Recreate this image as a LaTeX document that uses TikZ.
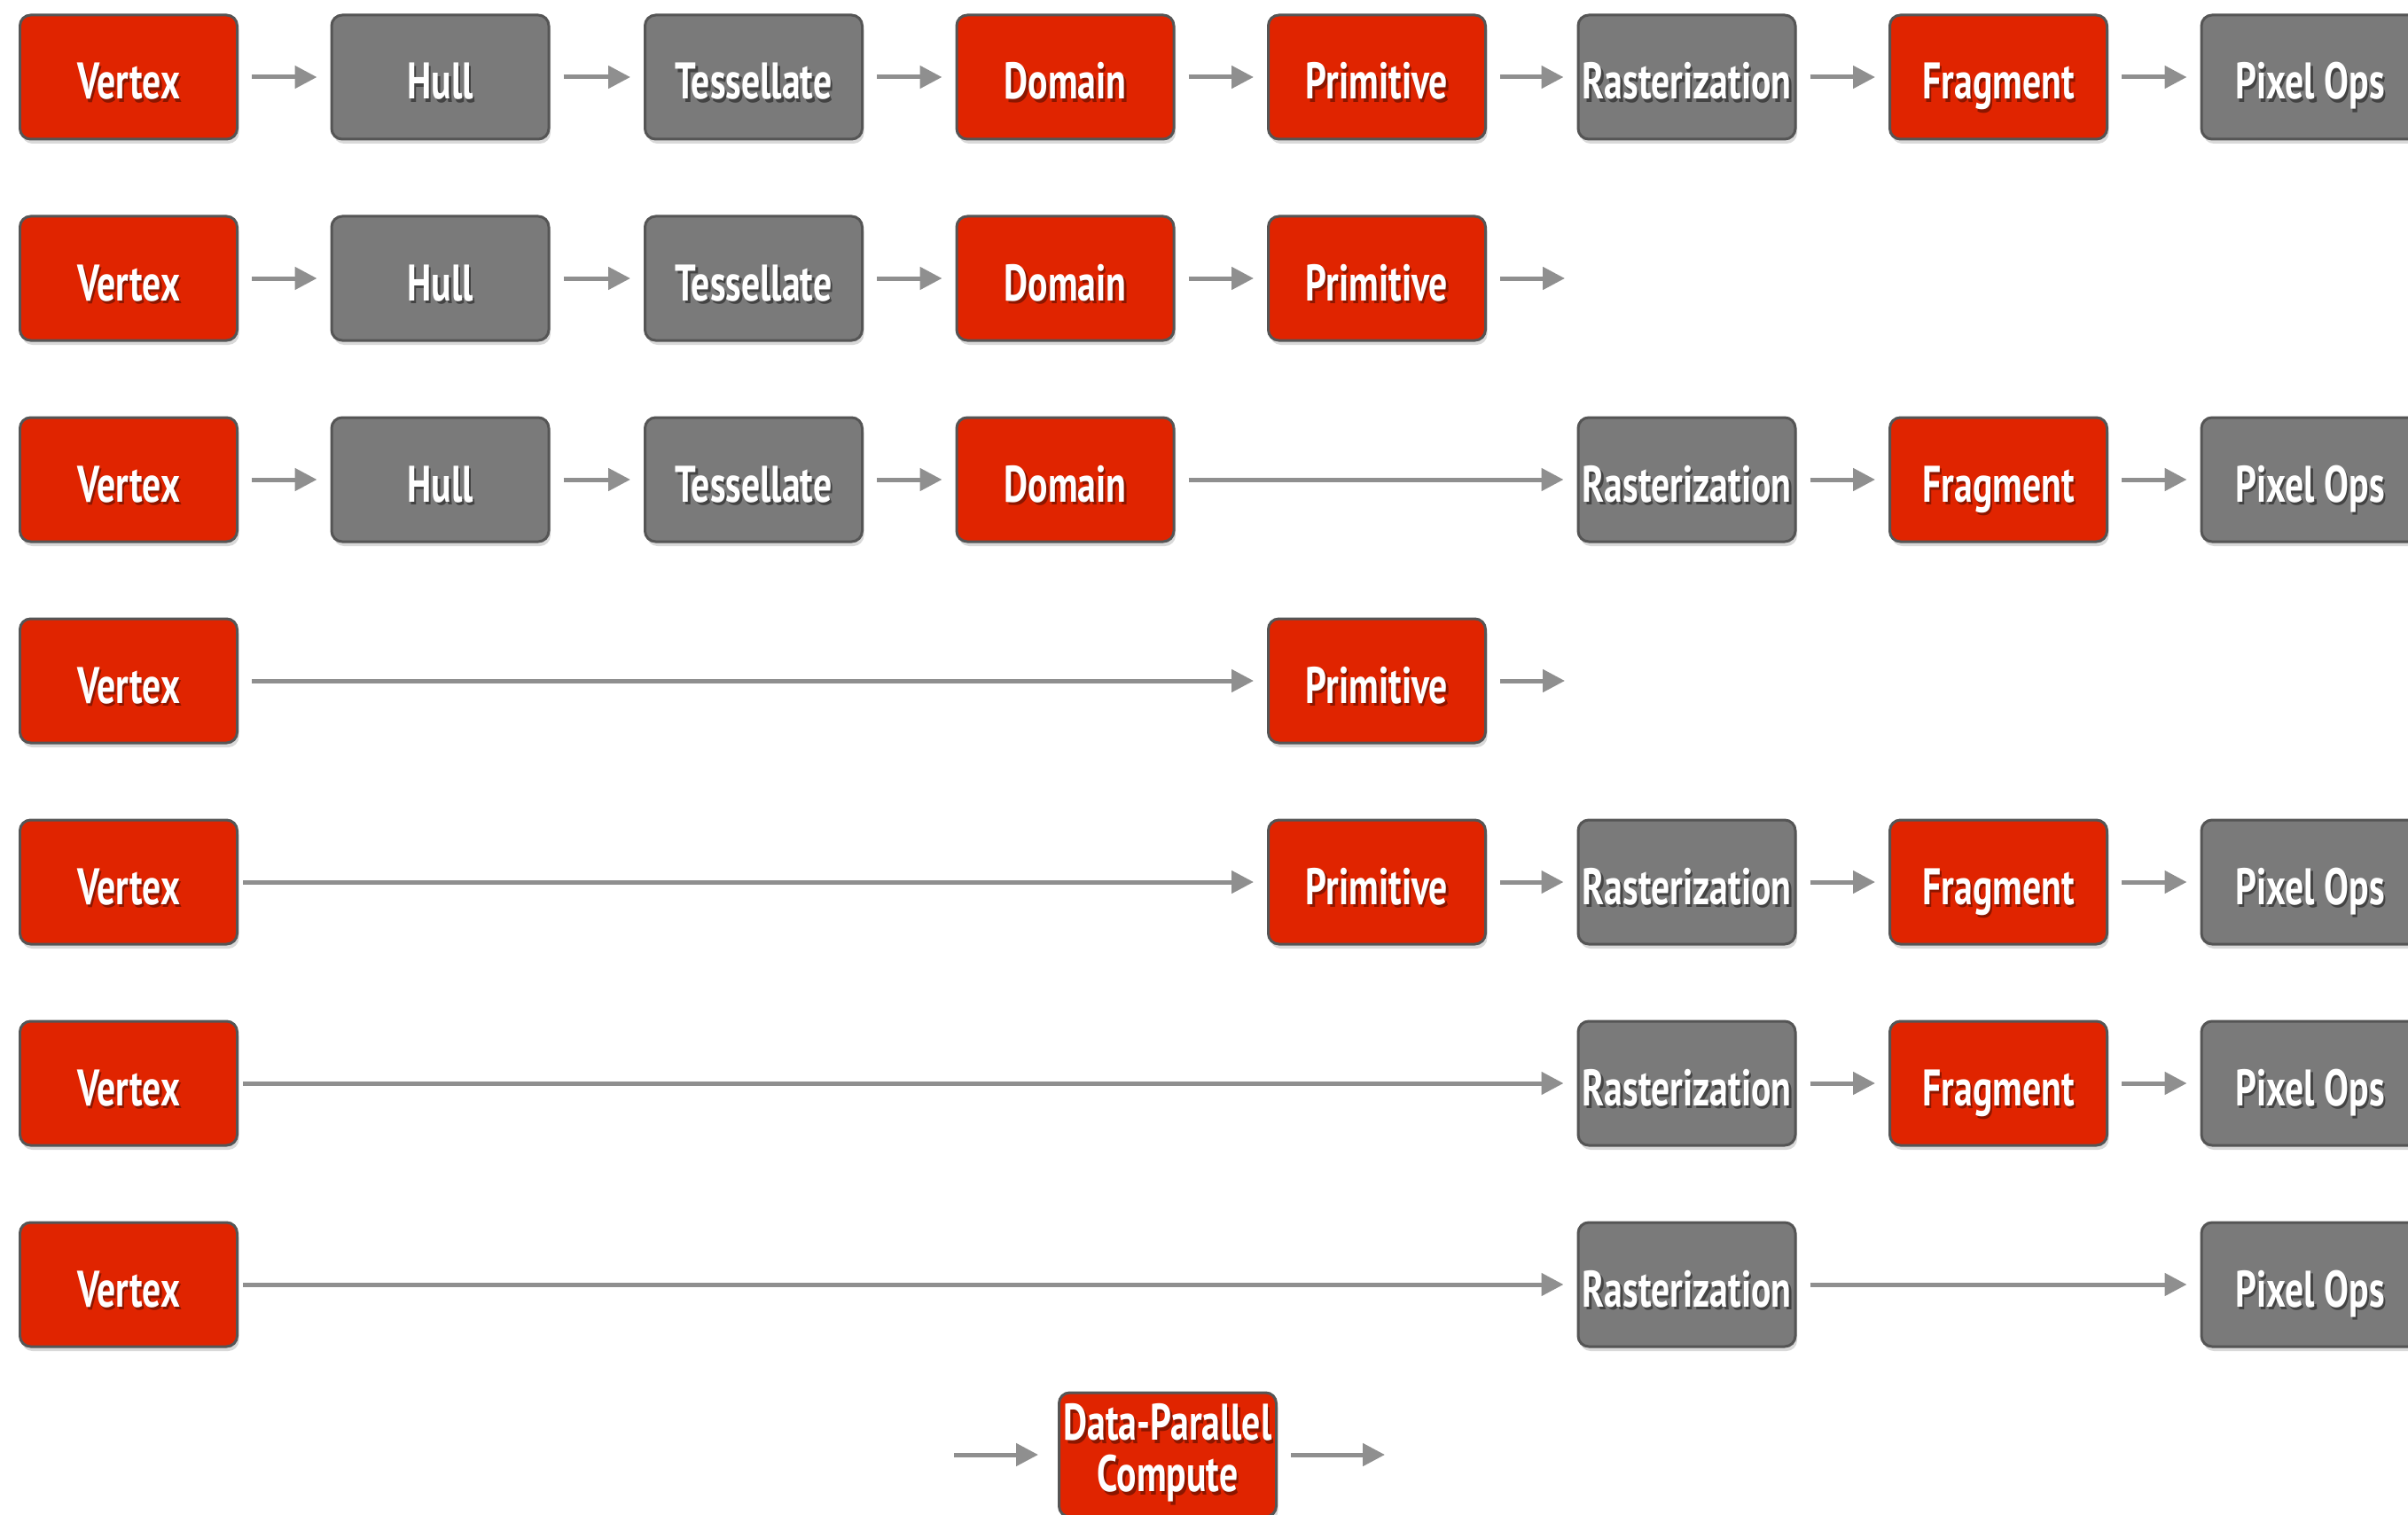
\documentclass[tikz,border=0pt]{standalone}
\usepackage{fontspec}
\newfontfamily\stagefont{PT Sans}[FakeStretch=0.72]
\usepackage{tikz}
\usetikzlibrary{arrows.meta,shadows}
\definecolor{stagered}{HTML}{E02400}
\definecolor{stagegrey}{HTML}{7A7A7A}
\definecolor{boxedge}{HTML}{555555}
\definecolor{flowgrey}{HTML}{8F8F8F}
\colorlet{redshade}{stagered!62!black}
\colorlet{greyshade}{stagegrey!55!black}
% white label with a dark offset copy behind it
\newcommand{\stxt}[1]{\leavevmode\rlap{\kern0.7pt\raisebox{-1.1pt}{\textcolor{\shcol}{#1}}}#1}

\begin{document}
\begin{tikzpicture}[
  stage/.style={rounded corners=0.12cm, draw=boxedge, line width=0.03cm,
                minimum width=2.45cm, minimum height=1.40cm, inner sep=0pt,
                text=white, align=center, text height=0.55cm, text depth=0.05cm,
                font=\stagefont\bfseries\fontsize{16.5}{17.5}\selectfont,
                drop shadow={shadow xshift=0.02cm, shadow yshift=-0.05cm, opacity=0.3}},
  redstage/.style={stage, fill=stagered, execute at begin node=\def\shcol{redshade}},
  greystage/.style={stage, fill=stagegrey, execute at begin node=\def\shcol{greyshade}},
  flow/.style={draw=flowgrey, line width=0.05cm,
               -{Triangle[length=0.25cm, width=0.25cm]},
               shorten <=0.15cm, shorten >=0.15cm},
  longflow/.style={flow, shorten <=0.05cm},
]
\clip (0,0) rectangle (27.16,-17.09);
% row 1 : full pipeline
\node[redstage] (v1) at (1.450,-0.87) {\stxt{Vertex}};
\node[greystage] (h1) at (4.965,-0.87) {\stxt{Hull}};
\node[greystage] (t1) at (8.500,-0.87) {\stxt{Tessellate}};
\node[redstage] (d1) at (12.015,-0.87) {\stxt{Domain}};
\node[redstage] (p1) at (15.530,-0.87) {\stxt{Primitive}};
\node[greystage] (r1) at (19.025,-0.87) {\stxt{Rasterization}};
\node[redstage] (f1) at (22.540,-0.87) {\stxt{Fragment}};
\node[greystage] (o1) at (26.055,-0.87) {\stxt{Pixel Ops}};
\draw[flow] (v1) -- (h1);
\draw[flow] (h1) -- (t1);
\draw[flow] (t1) -- (d1);
\draw[flow] (d1) -- (p1);
\draw[flow] (p1) -- (r1);
\draw[flow] (r1) -- (f1);
\draw[flow] (f1) -- (o1);
% row 2
\node[redstage] (v2) at (1.450,-3.14) {\stxt{Vertex}};
\node[greystage] (h2) at (4.965,-3.14) {\stxt{Hull}};
\node[greystage] (t2) at (8.500,-3.14) {\stxt{Tessellate}};
\node[redstage] (d2) at (12.015,-3.14) {\stxt{Domain}};
\node[redstage] (p2) at (15.530,-3.14) {\stxt{Primitive}};
\coordinate (e2) at (17.80,-3.14);
\draw[flow] (v2) -- (h2);
\draw[flow] (h2) -- (t2);
\draw[flow] (t2) -- (d2);
\draw[flow] (d2) -- (p2);
\draw[flow] (p2) -- (e2);
% row 3
\node[redstage] (v3) at (1.450,-5.41) {\stxt{Vertex}};
\node[greystage] (h3) at (4.965,-5.41) {\stxt{Hull}};
\node[greystage] (t3) at (8.500,-5.41) {\stxt{Tessellate}};
\node[redstage] (d3) at (12.015,-5.41) {\stxt{Domain}};
\node[greystage] (r3) at (19.025,-5.41) {\stxt{Rasterization}};
\node[redstage] (f3) at (22.540,-5.41) {\stxt{Fragment}};
\node[greystage] (o3) at (26.055,-5.41) {\stxt{Pixel Ops}};
\draw[flow] (v3) -- (h3);
\draw[flow] (h3) -- (t3);
\draw[flow] (t3) -- (d3);
\draw[flow] (d3) -- (r3);
\draw[flow] (r3) -- (f3);
\draw[flow] (f3) -- (o3);
% row 4
\node[redstage] (v4) at (1.450,-7.68) {\stxt{Vertex}};
\node[redstage] (p4) at (15.530,-7.68) {\stxt{Primitive}};
\coordinate (e4) at (17.80,-7.68);
\draw[flow] (v4) -- (p4);
\draw[flow] (p4) -- (e4);
% row 5
\node[redstage] (v5) at (1.450,-9.95) {\stxt{Vertex}};
\node[redstage] (p5) at (15.530,-9.95) {\stxt{Primitive}};
\node[greystage] (r5) at (19.025,-9.95) {\stxt{Rasterization}};
\node[redstage] (f5) at (22.540,-9.95) {\stxt{Fragment}};
\node[greystage] (o5) at (26.055,-9.95) {\stxt{Pixel Ops}};
\draw[longflow] (v5) -- (p5);
\draw[flow] (p5) -- (r5);
\draw[flow] (r5) -- (f5);
\draw[flow] (f5) -- (o5);
% row 6
\node[redstage] (v6) at (1.450,-12.22) {\stxt{Vertex}};
\node[greystage] (r6) at (19.025,-12.22) {\stxt{Rasterization}};
\node[redstage] (f6) at (22.540,-12.22) {\stxt{Fragment}};
\node[greystage] (o6) at (26.055,-12.22) {\stxt{Pixel Ops}};
\draw[longflow] (v6) -- (r6);
\draw[flow] (r6) -- (f6);
\draw[flow] (f6) -- (o6);
% row 7
\node[redstage] (v7) at (1.450,-14.49) {\stxt{Vertex}};
\node[greystage] (r7) at (19.025,-14.49) {\stxt{Rasterization}};
\node[greystage] (o7) at (26.055,-14.49) {\stxt{Pixel Ops}};
\draw[longflow] (v7) -- (r7);
\draw[flow] (r7) -- (o7);
% compute
\node[redstage, text height=, text depth=] (dc) at (13.170,-16.41)
  {\stxt{Data-Parallel}\\[-1pt]\stxt{Compute}};
\coordinate (cin) at (10.76,-16.41);
\coordinate (cout) at (15.62,-16.41);
\draw[flow, shorten <=0cm, shorten >=0.22cm] (cin) -- (dc);
\draw[flow, shorten >=0cm] (dc) -- (cout);
\end{tikzpicture}
\end{document}
